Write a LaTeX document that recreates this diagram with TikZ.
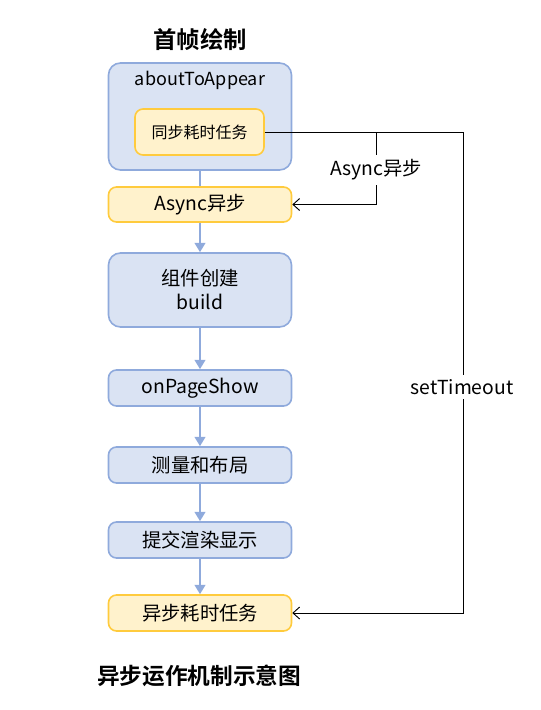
\documentclass[tikz,border=0pt]{standalone}
\usepackage{fontspec}
\setmainfont{Noto Sans CJK SC}[BoldFont={* Bold}]
\usetikzlibrary{arrows.meta}
\definecolor{stepfill}{HTML}{DAE3F3}
\definecolor{stepline}{HTML}{8FAADC}
\definecolor{taskfill}{HTML}{FFF2CC}
\definecolor{taskline}{HTML}{FFCB3D}
\tikzset{
  stepbox/.style={draw=stepline, fill=stepfill, line width=1.2pt, rounded corners=6pt,
    minimum width=183*0.75pt, align=center, font=\fontsize{14.5}{18}\selectfont},
  taskbox/.style={stepbox, draw=taskline, fill=taskfill},
  flow/.style={draw=stepline, line width=1.5pt, -{Triangle[length=7pt,width=8pt]}},
  call/.style={draw=black, line width=0.7pt, -{Straight Barb[length=5pt,width=9pt]}},
  lbl/.style={font=\fontsize{14.5}{18}\selectfont},
}
\begin{document}
\begin{tikzpicture}[x=0.75pt, y=-0.75pt]
  \useasboundingbox (0,0) rectangle (540,710);
  % first frame
  \node[font=\fontsize{17.5}{21}\selectfont\bfseries] (title) at (200,40) {首帧绘制};
  \node[stepbox, minimum height=107*0.75pt, rounded corners=9pt] (appear) at (200,116.5) {};
  \node[lbl, font=\fontsize{13.5}{16}\selectfont] (appeartxt) at (200,80) {aboutToAppear};
  \node[taskbox, minimum width=129*0.75pt, minimum height=46*0.75pt, font=\fontsize{12}{14}\selectfont] (sync) at (199.5,132) {同步耗时任务};
  \node[taskbox, minimum height=35*0.75pt] (async) at (200,204.5) {Async异步};
  \node[stepbox, minimum height=74*0.75pt, rounded corners=9pt] (build) at (200,290) {组件创建\\build};
  \node[stepbox, minimum height=36*0.75pt] (show) at (200,388) {onPageShow};
  \node[stepbox, minimum height=36*0.75pt] (layout) at (200,465) {测量和布局};
  \node[stepbox, minimum height=36*0.75pt] (render) at (200,540) {提交渲染显示};
  \node[taskbox, minimum height=36*0.75pt] (later) at (200,613) {异步耗时任务};
  \node[font=\fontsize{17}{21}\selectfont\bfseries] (caption) at (199,676) {异步运作机制示意图};
  % flow
  \draw[draw=stepline, line width=1.5pt] (appear) -- (async);
  \draw[flow] (async) -- (build);
  \draw[flow] (build) -- (show);
  \draw[flow] (show) -- (layout);
  \draw[flow] (layout) -- (render);
  \draw[flow] (render) -- (later);
  % async calls
  \coordinate (fork) at (376,132);
  \coordinate (corner) at (463,132);
  \node[lbl] (asynclbl) at (376,170) {Async异步};
  \node[lbl, fill=white] (timeout) at (462,387) {setTimeout};
  \draw[line width=0.7pt] (sync.east) -- (corner) -- (timeout.north -| corner);
  \draw[line width=0.7pt] (fork) -- (asynclbl.north);
  \draw[call] (asynclbl.south) |- (async.east);
  \draw[call] (timeout.south -| corner) |- (later.east);
\end{tikzpicture}
\end{document}
